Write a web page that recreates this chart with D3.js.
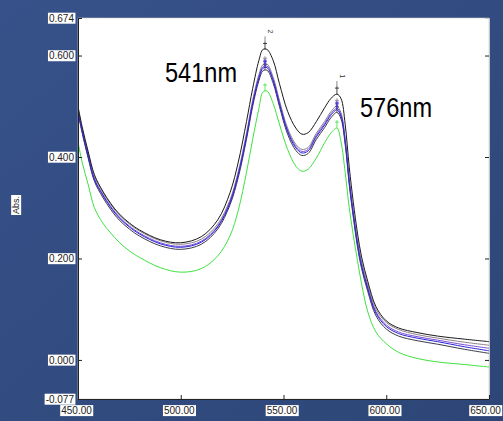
<!DOCTYPE html>
<html>
<head>
<meta charset="utf-8">
<script src="https://cdn.jsdelivr.net/npm/d3@7"></script>
<style>
  html, body { margin: 0; padding: 0; }
  body { width: 503px; height: 421px; overflow: hidden; }
  svg { display: block; }
</style>
</head>
<body>
<div class="chart"></div>
<script>
(function() {
  'use strict';

  // wavelength (nm)
  const wavelengths = [450, 452, 455, 458, 462, 466, 470, 475, 480, 490, 500, 510, 518, 524, 528, 532, 535, 538, 540, 542,
                       545, 548, 552, 556, 559, 562, 566, 570, 573, 576, 578, 580, 582, 584, 586, 588, 591, 595, 600, 606,
                       615, 625, 638, 650];

  // absorbance of each spectrum
  const absBlack = [0.500, 0.460, 0.410, 0.365, 0.333, 0.308, 0.288, 0.270, 0.256, 0.237, 0.231, 0.243, 0.276, 0.330, 0.390, 0.470, 0.535, 0.590, 0.612, 0.612,
                    0.590, 0.545, 0.490, 0.457, 0.445, 0.448, 0.470, 0.497, 0.515, 0.524, 0.515, 0.465, 0.380, 0.310, 0.250, 0.203, 0.155, 0.105, 0.077, 0.063,
                    0.054, 0.047, 0.041, 0.036];
  const absGray  = [0.495, 0.455, 0.406, 0.361, 0.331, 0.306, 0.286, 0.268, 0.254, 0.235, 0.228, 0.238, 0.268, 0.316, 0.371, 0.447, 0.512, 0.562, 0.582, 0.583,
                    0.557, 0.512, 0.457, 0.425, 0.415, 0.419, 0.447, 0.470, 0.489, 0.500, 0.487, 0.437, 0.357, 0.292, 0.236, 0.193, 0.148, 0.100, 0.074, 0.060,
                    0.050, 0.043, 0.035, 0.029];
  const absPurple = [0.492, 0.452, 0.402, 0.357, 0.327, 0.302, 0.282, 0.264, 0.250, 0.231, 0.224, 0.234, 0.264, 0.313, 0.368, 0.443, 0.508, 0.558, 0.578, 0.579,
                     0.553, 0.508, 0.453, 0.421, 0.411, 0.415, 0.443, 0.466, 0.485, 0.496, 0.483, 0.433, 0.353, 0.288, 0.231, 0.188, 0.143, 0.095, 0.069, 0.055,
                     0.046, 0.039, 0.030, 0.023];
  const absBlue  = [0.490, 0.450, 0.400, 0.355, 0.325, 0.300, 0.280, 0.262, 0.248, 0.229, 0.222, 0.232, 0.262, 0.310, 0.365, 0.440, 0.505, 0.555, 0.575, 0.576,
                    0.550, 0.505, 0.450, 0.418, 0.408, 0.412, 0.440, 0.463, 0.482, 0.493, 0.480, 0.430, 0.350, 0.285, 0.228, 0.185, 0.140, 0.092, 0.066, 0.052,
                    0.043, 0.036, 0.026, 0.018];
  const absDark  = [0.488, 0.448, 0.397, 0.352, 0.321, 0.296, 0.276, 0.258, 0.244, 0.225, 0.218, 0.228, 0.258, 0.306, 0.360, 0.435, 0.500, 0.550, 0.570, 0.571,
                    0.545, 0.500, 0.445, 0.413, 0.403, 0.407, 0.435, 0.458, 0.477, 0.488, 0.475, 0.425, 0.345, 0.280, 0.223, 0.180, 0.135, 0.087, 0.061, 0.047,
                    0.038, 0.031, 0.021, 0.013];
  const absGreen = [0.430, 0.390, 0.345, 0.300, 0.270, 0.250, 0.232, 0.215, 0.202, 0.182, 0.173, 0.180, 0.205, 0.245, 0.295, 0.370, 0.435, 0.495, 0.528, 0.530,
                    0.505, 0.465, 0.415, 0.382, 0.372, 0.376, 0.398, 0.428, 0.447, 0.457, 0.430, 0.370, 0.300, 0.245, 0.196, 0.150, 0.095, 0.055, 0.032, 0.015,
                    0.003, -0.004, -0.009, -0.014];

  const xTicks = [450, 500, 550, 600, 650];
  const xTickLabels = ['450.00', '500.00', '550.00', '600.00', '650.00'];
  const yTicks = [0.674, 0.6, 0.4, 0.2, 0, -0.077];
  const yTickLabels = ['0.674', '0.600', '0.400', '0.200', '0.000', '-0.077'];

  const peaks = [541, 576];
  const peakLabels = ['2', '1'];
  const peakNotes = ['541nm', '576nm'];

  let width = 503, height = 421,
      left = 78, right = 489, top = 18, bottom = 399,

      svg = d3.select('.chart')
        .append('svg')
        .attr('width', width)
        .attr('height', height),

      x = d3.scaleLinear().domain([450, 650]).range([left, right]),
      y = d3.scaleLinear().domain([-0.077, 0.674]).range([bottom, top]);

  const series = [
    { v: absGreen,  color: '#3fe23f' },
    { v: absGray,   color: '#8c7f86' },
    { v: absDark,   color: '#3a3a4a' },
    { v: absPurple, color: '#7a4fd6' },
    { v: absBlue,   color: '#2a22d8' },
    { v: absBlack,  color: '#1a1a1a' }
  ];

  // slide background
  let defs = svg.append('defs');
  let grad = defs.append('linearGradient')
    .attr('id', 'bg')
    .attr('x1', '0').attr('y1', '0').attr('x2', '1').attr('y2', '1');
  grad.append('stop').attr('offset', '0%').attr('stop-color', '#37528a');
  grad.append('stop').attr('offset', '100%').attr('stop-color', '#2d4677');

  svg.append('rect')
    .attr('width', width).attr('height', height)
    .attr('fill', 'url(#bg)');

  defs.append('clipPath').attr('id', 'clip')
    .append('rect')
    .attr('x', left).attr('y', top)
    .attr('width', right - left).attr('height', bottom - top);

  // plot area
  svg.append('rect')
    .attr('x', left).attr('y', top)
    .attr('width', right - left).attr('height', bottom - top)
    .attr('fill', '#fff')
    .attr('stroke', '#c8c8c8')
    .attr('stroke-width', 0.6);

  let line = d3.line()
    .x((d, i) => x(wavelengths[i]))
    .y(d => y(d))
    .curve(d3.curveCatmullRom.alpha(0.5));

  let g = svg.append('g').attr('clip-path', 'url(#clip)');

  g.selectAll('path.spec')
    .data(series)
    .enter()
    .append('path')
      .attr('class', 'spec')
      .attr('d', d => line(d.v))
      .attr('fill', 'none')
      .attr('stroke', d => d.color)
      .attr('stroke-width', 1);

  // peak pick markers
  peaks.forEach((p, k) => {
    let i = d3.minIndex(wavelengths, w => Math.abs(w - p));
    let px = x(p);
    series.forEach(s => {
      let py = y(d3.max(s.v.slice(Math.max(0, i - 2), i + 3)));
      g.append('line')
        .attr('x1', px).attr('x2', px)
        .attr('y1', py).attr('y2', py - 8)
        .attr('stroke', s.color).attr('stroke-width', 0.8);
      g.append('line')
        .attr('x1', px - 2).attr('x2', px + 2)
        .attr('y1', py - 6).attr('y2', py - 6)
        .attr('stroke', s.color).attr('stroke-width', 0.8);
    });
    let topY = y(d3.max(absBlack.slice(Math.max(0, i - 2), i + 3)));
    g.append('line')
      .attr('x1', px).attr('x2', px)
      .attr('y1', topY - 8).attr('y2', topY - 13)
      .attr('stroke', '#333').attr('stroke-width', 0.6);
    svg.append('text')
      .attr('transform', `translate(${px + 3},${topY - 18}) rotate(90)`)
      .attr('font-family', 'Liberation Sans, Arial, sans-serif')
      .attr('font-size', 7)
      .attr('fill', '#333')
      .attr('text-anchor', 'middle')
      .text(peakLabels[k]);
  });

  // axes
  let yAxis = svg.append('g')
    .attr('transform', `translate(${left},0)`)
    .call(d3.axisLeft(y)
      .tickValues(yTicks)
      .tickSize(-4)
      .tickPadding(4)
      .tickFormat((d, i) => yTickLabels[i]));

  let yAxisR = svg.append('g')
    .attr('transform', `translate(${right},0)`)
    .call(d3.axisRight(y)
      .tickValues(yTicks.slice(1, -1))
      .tickSize(-4)
      .tickFormat(''));

  let xAxis = svg.append('g')
    .attr('transform', `translate(0,${bottom})`)
    .call(d3.axisBottom(x)
      .tickValues(xTicks)
      .tickSize(-4)
      .tickPadding(8)
      .tickFormat((d, i) => xTickLabels[i]));

  [yAxis, yAxisR, xAxis].forEach(a => {
    a.select('.domain').attr('stroke', '#222');
    a.selectAll('.tick line').attr('stroke', '#222');
  });
  yAxisR.select('.domain').attr('stroke', '#c8c8c8');

  xAxis.selectAll('.tick text')
    .attr('dx', (d, i) => i === xTicks.length - 1 ? -4 : -2);

  // white boxes behind tick labels
  [yAxis, xAxis].forEach(a => {
    a.selectAll('.tick text')
      .attr('font-family', 'Liberation Sans, Arial, sans-serif')
      .attr('font-size', 10)
      .attr('fill', '#222')
      .each(function() {
        let b = this.getBBox();
        d3.select(this.parentNode).insert('rect', 'text')
          .attr('x', b.x - 1).attr('y', b.y)
          .attr('width', b.width + 2).attr('height', b.height)
          .attr('fill', '#fff');
      });
  });

  // y axis title
  let title = svg.append('g')
    .attr('transform', 'translate(16,205) rotate(-90)');
  let tt = title.append('text')
    .attr('font-family', 'Liberation Sans, Arial, sans-serif')
    .attr('font-size', 9)
    .attr('fill', '#222')
    .attr('text-anchor', 'middle')
    .attr('dy', '0.35em')
    .text('Abs.');
  let tb = tt.node().getBBox();
  title.insert('rect', 'text')
    .attr('x', tb.x - 1).attr('y', tb.y)
    .attr('width', tb.width + 2).attr('height', tb.height)
    .attr('fill', '#fff');

  // peak annotations
  svg.selectAll('text.note')
    .data(peakNotes)
    .enter()
    .append('text')
      .attr('class', 'note')
      .attr('x', (d, i) => i === 0 ? 165 : 360)
      .attr('y', (d, i) => i === 0 ? 82 : 117)
      .attr('font-family', 'Liberation Sans Narrow, Liberation Sans, Arial, sans-serif')
      .attr('font-size', 28)
      .attr('textLength', 72)
      .attr('lengthAdjust', 'spacingAndGlyphs')
      .attr('fill', '#000')
      .text(d => d);

})();
</script>
</body>
</html>
